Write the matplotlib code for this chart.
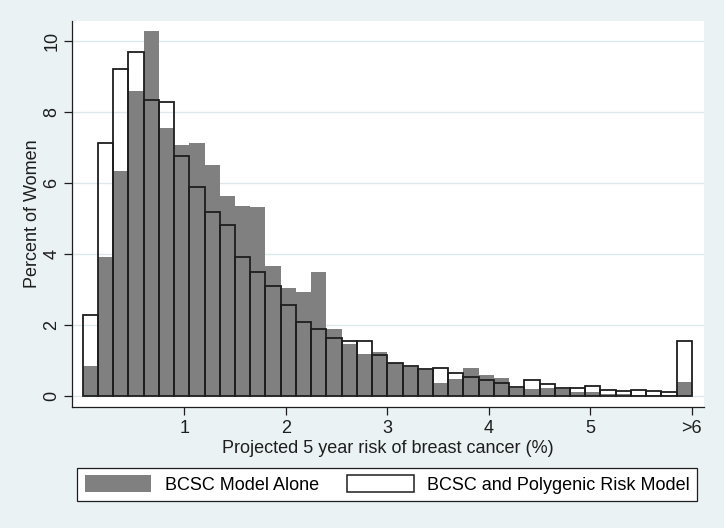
import matplotlib
matplotlib.use("Agg")
import matplotlib.pyplot as plt
import matplotlib.patches as patches
import numpy as np

plt.rcParams['font.family'] = ['Liberation Sans', 'DejaVu Sans']

BIN_WIDTH = 0.15  # risk bins of 0.15 percentage points, last bin is ">6"
FS = 13

# percent of women in each bin, BCSC model alone
bcsc_alone = [0.85, 3.91, 6.34, 8.59, 10.27, 7.53, 7.07, 7.13, 6.49, 5.63,
              5.36, 5.33, 3.67, 3.03, 2.94, 3.48, 1.90, 1.47, 1.18, 1.25,
              0.92, 0.83, 0.74, 0.38, 0.49, 0.78, 0.58, 0.52, 0.24, 0.20,
              0.24, 0.21, 0.11, 0.12, 0.07, 0.06, 0.03, 0.03, 0.04, 0.40]

# percent of women in each bin, BCSC plus polygenic risk
bcsc_prs = [2.28, 7.11, 9.19, 9.68, 8.32, 8.27, 6.75, 5.87, 5.18, 4.82,
            3.91, 3.49, 3.10, 2.56, 2.08, 1.89, 1.62, 1.55, 1.55, 1.15,
            0.93, 0.84, 0.77, 0.80, 0.66, 0.55, 0.45, 0.36, 0.25, 0.44,
            0.35, 0.22, 0.24, 0.28, 0.18, 0.13, 0.18, 0.15, 0.12, 1.56]

x_ticks = [1, 2, 3, 4, 5, 6]
x_tick_labels = ['1', '2', '3', '4', '5', '>6']
y_ticks = [0, 2, 4, 6, 8, 10]

BG = '#EAF2F3'
GRAY = '#808080'
DARK = '#1e1e1e'

fig = plt.figure(figsize=(7.24, 5.28), dpi=100, facecolor=BG)
ax = fig.add_axes([0.099, 0.229, 0.8734, 0.7318])
ax.set_facecolor('white')

left = np.arange(len(bcsc_alone)) * BIN_WIDTH
ax.bar(left, bcsc_alone, width=BIN_WIDTH, align='edge', color=GRAY,
       linewidth=0, zorder=2)
ax.bar(left, bcsc_prs, width=BIN_WIDTH, align='edge', facecolor='none',
       edgecolor=DARK, linewidth=1.3, zorder=3)

ax.set_xlim(-0.109, 6.12)
ax.set_ylim(-0.31, 10.56)

ax.set_yticks(y_ticks)
ax.set_yticklabels([str(v) for v in y_ticks], rotation=90, va='center')
ax.set_xticks(x_ticks)
ax.set_xticklabels(x_tick_labels)
ax.tick_params(axis='both', labelsize=FS, colors=DARK, length=6,
               width=0.9, pad=3)
ax.tick_params(axis='y', pad=2)

ax.yaxis.grid(True, color='#DDE8EB', linewidth=1.0, zorder=0)
ax.set_axisbelow(True)

for side in ['top', 'right']:
    ax.spines[side].set_visible(False)
for side in ['left', 'bottom']:
    ax.spines[side].set_color(DARK)
    ax.spines[side].set_linewidth(0.9)

ax.set_ylabel('Percent of Women', fontsize=FS, color=DARK)
ax.yaxis.set_label_coords(-0.049, 0.5)
ax.set_xlabel('Projected 5 year risk of breast cancer (%)', fontsize=FS,
              color=DARK)
ax.xaxis.set_label_coords(0.5, -0.085)

handles = [patches.Patch(facecolor=GRAY, edgecolor='none'),
           patches.Patch(facecolor='white', edgecolor=DARK, linewidth=1.1)]
labels = ['BCSC Model Alone', 'BCSC and Polygenic Risk Model']
leg = fig.legend(handles, labels, ncol=2, mode='expand',
                 bbox_to_anchor=(77.3 / 724, 1 - 501 / 528, 620 / 724, 33.3 / 528),
                 loc='lower left', fontsize=FS, frameon=True, fancybox=False,
                 edgecolor=DARK, facecolor='white', framealpha=1,
                 handlelength=3.7, handleheight=1.05, handletextpad=0.75,
                 borderpad=0.4, borderaxespad=0)
leg.get_frame().set_linewidth(0.9)

fig.savefig('out.png', dpi=100, facecolor=BG)
